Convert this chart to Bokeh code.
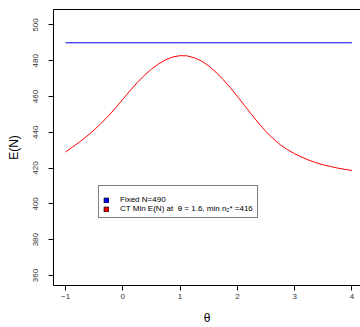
from bokeh.plotting import figure
from bokeh.models import Range1d, FixedTicker, LinearAxis, Legend, LegendItem
from bokeh.embed import file_html
from bokeh.resources import INLINE

# ---- data ----
theta = [-1.0, -0.875, -0.75, -0.625, -0.5, -0.375, -0.25, -0.125, 0.0,
         0.125, 0.25, 0.375, 0.5, 0.625, 0.75, 0.875, 1.0, 1.125, 1.25,
         1.375, 1.5, 1.625, 1.75, 1.875, 2.0, 2.125, 2.25, 2.375, 2.5,
         2.625, 2.75, 2.875, 3.0, 3.125, 3.25, 3.375, 3.5, 3.625, 3.75,
         3.875, 4.0]
ct_min_en = [429.0, 431.8, 434.7, 437.9, 441.3, 445.1, 449.2, 453.7, 458.4,
             463.2, 467.7, 471.8, 475.3, 478.2, 480.5, 482.1, 482.8, 482.7,
             481.6, 479.8, 477.1, 473.6, 469.5, 465.0, 460.1, 455.0, 449.9,
             444.9, 440.4, 436.4, 433.0, 430.3, 428.0, 426.1, 424.4, 423.0,
             421.8, 420.9, 420.0, 419.3, 418.7]
fixed_theta = [-1.0, 4.0]
fixed_en = [490, 490]
x_ticks = [-1, 0, 1, 2, 3, 4]
y_ticks = [360, 380, 400, 420, 440, 460, 480, 500]
legend_labels = ["Fixed N=490", "CT Min E(N) at  \u03b8 = 1.6, min n\u2082* =416"]

FONT = "Liberation Sans"
NAN = float("nan")

p = figure(width=360, height=327,
           x_range=Range1d(-1.21, 4.15), y_range=Range1d(354.4, 508.6),
           output_backend="svg", toolbar_location=None,
           min_border_left=53, min_border_top=9, min_border_right=0,
           min_border_bottom=41,
           x_axis_label="\u03b8", y_axis_label="E(N)")
p.grid.visible = False
p.outline_line_color = None
p.background_fill_color = "white"
p.border_fill_color = "white"

for ax in (p.xaxis[0], p.yaxis[0]):
    ax.axis_line_color = "black"
    ax.axis_line_width = 1
    ax.major_tick_line_color = "black"
    ax.major_tick_out = 5
    ax.major_tick_in = 0
    ax.minor_tick_line_color = None
    ax.major_label_text_font = FONT
    ax.major_label_text_font_size = "8px"
    ax.major_label_text_color = "#333333"
    ax.axis_label_text_font = FONT
    ax.axis_label_text_font_size = "12px"
    ax.axis_label_text_font_style = "normal"
    ax.axis_label_text_color = "black"

p.xaxis.ticker = FixedTicker(ticks=x_ticks)
p.yaxis.ticker = FixedTicker(ticks=y_ticks)
p.xaxis.major_label_standoff = 3
p.xaxis.axis_label_standoff = 9
p.yaxis.major_label_orientation = "vertical"
p.yaxis.major_label_standoff = 10
p.yaxis.axis_label_standoff = 10

top = LinearAxis(ticker=FixedTicker(ticks=[]), major_tick_out=0, major_tick_in=0,
                 minor_tick_out=0, minor_tick_in=0, major_label_text_font_size="0px",
                 major_label_standoff=0, axis_line_color="black")
p.add_layout(top, "above")

p.line(fixed_theta, fixed_en, line_color="#0000FF", line_width=1)
p.line(theta, ct_min_en, line_color="#FF0000", line_width=1)

k1 = p.quad(left=[NAN], right=[NAN], top=[NAN], bottom=[NAN],
            fill_color="#0000FF", line_color="black", line_width=0.8)
k2 = p.quad(left=[NAN], right=[NAN], top=[NAN], bottom=[NAN],
            fill_color="#FF0000", line_color="black", line_width=0.8)

legend = Legend(items=[LegendItem(label=legend_labels[0], renderers=[k1]),
                       LegendItem(label=legend_labels[1], renderers=[k2])],
                location=(45, 67), margin=0, padding=4, spacing=0,
                glyph_width=6, glyph_height=6, label_height=9, label_standoff=11,
                label_text_font=FONT, label_text_font_size="8px",
                label_text_color="black",
                title=" ", title_text_font_size="4px", title_standoff=0,
                border_line_color="black", border_line_width=1,
                background_fill_color="white", background_fill_alpha=1.0)
p.add_layout(legend)

open("out.html", "w").write(file_html(p, INLINE))
